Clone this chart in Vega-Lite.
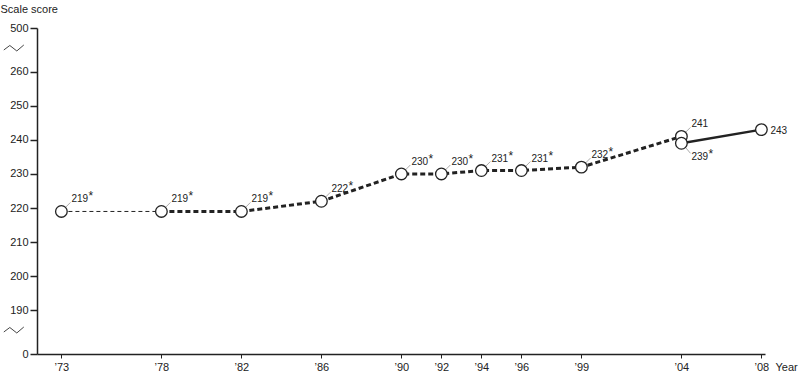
{
  "$schema": "https://vega.github.io/schema/vega-lite/v6.json",
  "width": 728,
  "height": 326,
  "autosize": {"type": "none"},
  "padding": {"left": 37, "top": 28, "right": 43, "bottom": 34},
  "background": "white",
  "config": {
    "view": {"stroke": null},
    "font": "Liberation Sans",
    "text": {"font": "Liberation Sans", "color": "#222"}
  },
  "datasets": {
    "points": [
      {"year": 1973, "score": 219, "label": "219", "star": true, "pos": "ur"},
      {"year": 1978, "score": 219, "label": "219", "star": true, "pos": "ur"},
      {"year": 1982, "score": 219, "label": "219", "star": true, "pos": "ur"},
      {"year": 1986, "score": 222, "label": "222", "star": true, "pos": "ur"},
      {"year": 1990, "score": 230, "label": "230", "star": true, "pos": "ur"},
      {"year": 1992, "score": 230, "label": "230", "star": true, "pos": "ur"},
      {"year": 1994, "score": 231, "label": "231", "star": true, "pos": "ur"},
      {"year": 1996, "score": 231, "label": "231", "star": true, "pos": "ur"},
      {"year": 1999, "score": 232, "label": "232", "star": true, "pos": "ur"},
      {"year": 2004, "score": 241, "label": "241", "star": false, "pos": "ur"},
      {"year": 2004, "score": 239, "label": "239", "star": true, "pos": "lr"},
      {"year": 2008, "score": 243, "label": "243", "star": false, "pos": "r"}
    ],
    "lines": [
      {"seg": "a", "year": 1973, "score": 219},
      {"seg": "a", "year": 1978, "score": 219},
      {"seg": "b", "year": 1978, "score": 219},
      {"seg": "b", "year": 1982, "score": 219},
      {"seg": "b", "year": 1986, "score": 222},
      {"seg": "b", "year": 1990, "score": 230},
      {"seg": "b", "year": 1992, "score": 230},
      {"seg": "b", "year": 1994, "score": 231},
      {"seg": "b", "year": 1996, "score": 231},
      {"seg": "b", "year": 1999, "score": 232},
      {"seg": "b", "year": 2004, "score": 241},
      {"seg": "c", "year": 2004, "score": 239},
      {"seg": "c", "year": 2008, "score": 243}
    ],
    "breaks": [
      {"year": 1970.62, "score": 266.94},
      {"year": 1970.62, "score": 184.24}
    ]
  },
  "encoding": {
    "x": {
      "field": "year",
      "type": "quantitative",
      "scale": {"domain": [1971.78, 2008.18], "nice": false, "zero": false},
      "axis": {
        "values": [1973, 1978, 1982, 1986, 1990, 1992, 1994, 1996, 1999, 2004, 2008],
        "labelExpr": "'’' + substring(toString(datum.value), 2)",
        "grid": false,
        "domainColor": "#222",
        "domainWidth": 1.5,
        "tickColor": "#222",
        "tickSize": 4,
        "labelPadding": 3,
        "labelFont": "Liberation Sans",
        "labelFontSize": 11,
        "labelColor": "#222",
        "title": "Year",
        "titleFont": "Liberation Sans",
        "titleFontSize": 11,
        "titleFontWeight": "normal",
        "titleColor": "#222",
        "titleX": 738,
        "titleY": 16,
        "titleAlign": "left",
        "titleBaseline": "alphabetic",
        "titleAnchor": null
      }
    },
    "y": {
      "field": "score",
      "type": "quantitative",
      "scale": {"domain": [177.2, 272.8], "nice": false, "zero": false},
      "axis": {
        "values": [177.2, 190, 200, 210, 220, 230, 240, 250, 260, 272.8],
        "labelExpr": "datum.value > 270 ? '500' : (datum.value < 180 ? '0' : datum.label)",
        "grid": false,
        "domainColor": "#222",
        "domainWidth": 1.5,
        "tickColor": "#222",
        "tickSize": 7,
        "tickWidth": 1.5,
        "labelPadding": 2,
        "labelFont": "Liberation Sans",
        "labelFontSize": 11,
        "labelColor": "#222",
        "title": "Scale score",
        "titleFont": "Liberation Sans",
        "titleFontSize": 11,
        "titleFontWeight": "normal",
        "titleColor": "#222",
        "titleAngle": 0,
        "titleX": -37,
        "titleY": -16,
        "titleAlign": "left",
        "titleBaseline": "alphabetic",
        "titleAnchor": null
      }
    }
  },
  "layer": [
    {
      "data": {"name": "breaks"},
      "mark": {
        "type": "point",
        "shape": "M -1 0.2 L -0.4 -0.25 L 0.3 0.3 L 1 -0.3",
        "size": 400,
        "filled": false,
        "stroke": "#444",
        "strokeWidth": 1,
        "opacity": 1,
        "clip": false
      }
    },
    {
      "data": {"name": "lines"},
      "transform": [{"filter": "datum.seg === 'a'"}],
      "mark": {"type": "line", "stroke": "#222", "strokeWidth": 1, "strokeDash": [4, 3]}
    },
    {
      "data": {"name": "lines"},
      "transform": [{"filter": "datum.seg === 'b'"}],
      "mark": {"type": "line", "stroke": "#222", "strokeWidth": 3, "strokeDash": [5, 3]}
    },
    {
      "data": {"name": "lines"},
      "transform": [{"filter": "datum.seg === 'c'"}],
      "mark": {"type": "line", "stroke": "#222", "strokeWidth": 2.5}
    },
    {
      "data": {"name": "points"},
      "transform": [{"filter": "datum.pos === 'ur'"}],
      "mark": {"type": "rule", "stroke": "#aaa", "strokeWidth": 1, "xOffset": 4, "yOffset": -4, "x2Offset": 9, "y2Offset": -9},
      "encoding": {
        "x2": {"field": "year"},
        "y2": {"field": "score"}
      }
    },
    {
      "data": {"name": "points"},
      "transform": [{"filter": "datum.pos === 'lr'"}],
      "mark": {"type": "rule", "stroke": "#aaa", "strokeWidth": 1, "xOffset": 4, "yOffset": 4, "x2Offset": 9, "y2Offset": 10},
      "encoding": {
        "x2": {"field": "year"},
        "y2": {"field": "score"}
      }
    },
    {
      "data": {"name": "points"},
      "mark": {"type": "point", "shape": "circle", "size": 135, "filled": true, "fill": "white", "stroke": "#222", "strokeWidth": 1.3, "opacity": 1}
    },
    {
      "data": {"name": "points"},
      "transform": [{"filter": "datum.pos === 'ur'"}],
      "mark": {"type": "text", "align": "left", "baseline": "alphabetic", "dx": 10, "dy": -9, "fontSize": 10},
      "encoding": {"text": {"field": "label"}}
    },
    {
      "data": {"name": "points"},
      "transform": [{"filter": "datum.pos === 'lr'"}],
      "mark": {"type": "text", "align": "left", "baseline": "alphabetic", "dx": 10, "dy": 17, "fontSize": 10},
      "encoding": {"text": {"field": "label"}}
    },
    {
      "data": {"name": "points"},
      "transform": [{"filter": "datum.pos === 'r'"}],
      "mark": {"type": "text", "align": "left", "baseline": "alphabetic", "dx": 9, "dy": 4, "fontSize": 10},
      "encoding": {"text": {"field": "label"}}
    },
    {
      "data": {"name": "points"},
      "transform": [{"filter": "datum.star && datum.pos === 'ur'"}],
      "mark": {"type": "text", "align": "left", "baseline": "alphabetic", "dx": 27, "dy": -11, "fontSize": 12, "text": "*"}
    },
    {
      "data": {"name": "points"},
      "transform": [{"filter": "datum.star && datum.pos === 'lr'"}],
      "mark": {"type": "text", "align": "left", "baseline": "alphabetic", "dx": 27, "dy": 15, "fontSize": 12, "text": "*"}
    }
  ]
}
